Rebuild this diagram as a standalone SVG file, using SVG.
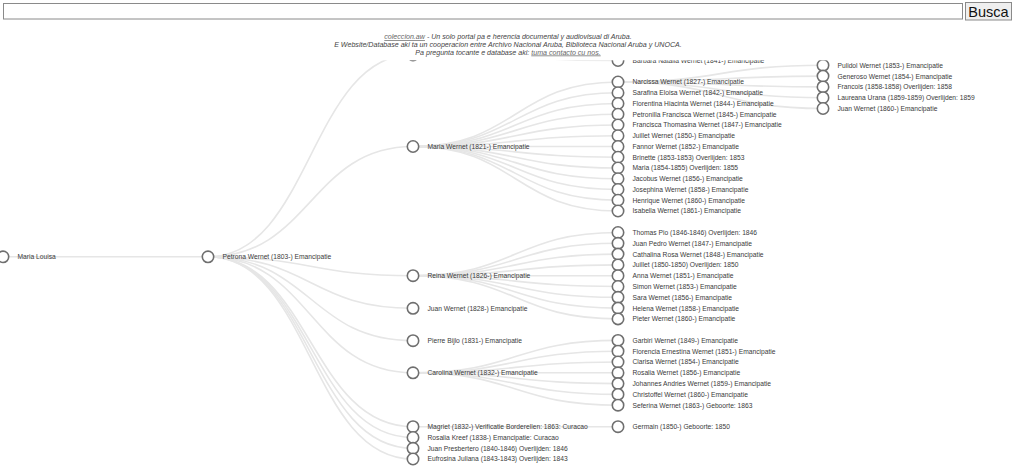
<svg xmlns="http://www.w3.org/2000/svg" width="1014" height="467" viewBox="0 0 1014 467">
<style>
.link{fill:none;stroke:#e6e6e6;stroke-width:1.6}
.node circle{fill:#fff;stroke:#6f6f6f;stroke-width:1.6}
.node text{font-family:"Liberation Sans",Arial,sans-serif;font-size:6.7px;fill:#3a3a3a}
.hdr{font-family:"Liberation Sans",Arial,sans-serif;font-size:7.1px;font-style:italic;fill:#444;text-anchor:middle}
.lnk{fill:#666;text-decoration:underline}
</style>
<rect width="1014" height="467" fill="#fff"/>
<g id="connectors">
<path class="link" d="M3,256.8L208,256.8"/>
<path class="link" d="M208,256.8C310.5,256.8 310.5,54.4 413,54.4"/>
<path class="link" d="M208,256.8C310.5,256.8 310.5,146.5 413,146.5"/>
<path class="link" d="M208,256.8C310.5,256.8 310.5,275.7 413,275.7"/>
<path class="link" d="M208,256.8C310.5,256.8 310.5,308.3 413,308.3"/>
<path class="link" d="M208,256.8C310.5,256.8 310.5,340.7 413,340.7"/>
<path class="link" d="M208,256.8C310.5,256.8 310.5,372.8 413,372.8"/>
<path class="link" d="M208,256.8C310.5,256.8 310.5,426.7 413,426.7"/>
<path class="link" d="M208,256.8C310.5,256.8 310.5,437.5 413,437.5"/>
<path class="link" d="M208,256.8C310.5,256.8 310.5,448.3 413,448.3"/>
<path class="link" d="M208,256.8C310.5,256.8 310.5,459 413,459"/>
<path class="link" d="M413,54.4C515.5,54.4 515.5,60.5 618,60.5"/>
<path class="link" d="M413,146.5C515.5,146.5 515.5,82 618,82"/>
<path class="link" d="M413,146.5C515.5,146.5 515.5,92.75 618,92.75"/>
<path class="link" d="M413,146.5C515.5,146.5 515.5,103.5 618,103.5"/>
<path class="link" d="M413,146.5C515.5,146.5 515.5,114.25 618,114.25"/>
<path class="link" d="M413,146.5C515.5,146.5 515.5,125 618,125"/>
<path class="link" d="M413,146.5C515.5,146.5 515.5,135.75 618,135.75"/>
<path class="link" d="M413,146.5C515.5,146.5 515.5,146.5 618,146.5"/>
<path class="link" d="M413,146.5C515.5,146.5 515.5,157.25 618,157.25"/>
<path class="link" d="M413,146.5C515.5,146.5 515.5,168 618,168"/>
<path class="link" d="M413,146.5C515.5,146.5 515.5,178.75 618,178.75"/>
<path class="link" d="M413,146.5C515.5,146.5 515.5,189.5 618,189.5"/>
<path class="link" d="M413,146.5C515.5,146.5 515.5,200.25 618,200.25"/>
<path class="link" d="M413,146.5C515.5,146.5 515.5,211 618,211"/>
<path class="link" d="M413,275.7C515.5,275.7 515.5,232.5 618,232.5"/>
<path class="link" d="M413,275.7C515.5,275.7 515.5,243.3 618,243.3"/>
<path class="link" d="M413,275.7C515.5,275.7 515.5,254.1 618,254.1"/>
<path class="link" d="M413,275.7C515.5,275.7 515.5,264.9 618,264.9"/>
<path class="link" d="M413,275.7C515.5,275.7 515.5,275.7 618,275.7"/>
<path class="link" d="M413,275.7C515.5,275.7 515.5,286.5 618,286.5"/>
<path class="link" d="M413,275.7C515.5,275.7 515.5,297.3 618,297.3"/>
<path class="link" d="M413,275.7C515.5,275.7 515.5,308.1 618,308.1"/>
<path class="link" d="M413,275.7C515.5,275.7 515.5,318.9 618,318.9"/>
<path class="link" d="M413,372.8C515.5,372.8 515.5,340.4 618,340.4"/>
<path class="link" d="M413,372.8C515.5,372.8 515.5,351.2 618,351.2"/>
<path class="link" d="M413,372.8C515.5,372.8 515.5,362 618,362"/>
<path class="link" d="M413,372.8C515.5,372.8 515.5,372.8 618,372.8"/>
<path class="link" d="M413,372.8C515.5,372.8 515.5,383.6 618,383.6"/>
<path class="link" d="M413,372.8C515.5,372.8 515.5,394.4 618,394.4"/>
<path class="link" d="M413,372.8C515.5,372.8 515.5,405.2 618,405.2"/>
<path class="link" d="M413,426.7L618,426.7"/>
<path class="link" d="M618,82C720.5,82 720.5,65.3 823,65.3"/>
<path class="link" d="M618,82C720.5,82 720.5,76.1 823,76.1"/>
<path class="link" d="M618,82C720.5,82 720.5,86.9 823,86.9"/>
<path class="link" d="M618,82C720.5,82 720.5,97.7 823,97.7"/>
<path class="link" d="M618,82C720.5,82 720.5,108.5 823,108.5"/>
</g>
<g id="n-root" class="node" transform="translate(3,256.8)"><circle r="5.7"/><text x="14.5" y="2.4">Maria Louisa</text></g>
<g id="n-petrona" class="node" transform="translate(208,256.8)"><circle r="5.7"/><text x="14.5" y="2.4">Petrona Wernet (1803-) Emancipatie</text></g>
<g id="n-hidden" class="node" transform="translate(413,55)"><circle r="5.7"/></g>
<g id="n-maria" class="node" transform="translate(413,146.5)"><circle r="5.7"/><text x="14.5" y="2.4">Maria Wernet (1821-) Emancipatie</text></g>
<g id="n-reina" class="node" transform="translate(413,275.7)"><circle r="5.7"/><text x="14.5" y="2.4">Reina Wernet (1826-) Emancipatie</text></g>
<g id="n-juan1828" class="node" transform="translate(413,308.3)"><circle r="5.7"/><text x="14.5" y="2.4">Juan Wernet (1828-) Emancipatie</text></g>
<g id="n-pierre" class="node" transform="translate(413,340.7)"><circle r="5.7"/><text x="14.5" y="2.4">Pierre Bijlo (1831-) Emancipatie</text></g>
<g id="n-carolina" class="node" transform="translate(413,372.8)"><circle r="5.7"/><text x="14.5" y="2.4">Carolina Wernet (1832-) Emancipatie</text></g>
<g id="n-magriet" class="node" transform="translate(413,426.7)"><circle r="5.7"/><text x="14.5" y="2.4">Magriet (1832-) Verificatie Borderellen: 1863: Curacao</text></g>
<g id="n-rosaliak" class="node" transform="translate(413,437.5)"><circle r="5.7"/><text x="14.5" y="2.4">Rosalia Kreef (1838-) Emancipatie: Curacao</text></g>
<g id="n-juanp" class="node" transform="translate(413,448.3)"><circle r="5.7"/><text x="14.5" y="2.4">Juan Presbertero (1840-1846) Overlijden: 1846</text></g>
<g id="n-eufrosina" class="node" transform="translate(413,459)"><circle r="5.7"/><text x="14.5" y="2.4">Eufrosina Juliana (1843-1843) Overlijden: 1843</text></g>
<g id="n-barbara" class="node" transform="translate(618,60.5)"><circle r="5.7"/><text x="14.5" y="2.4">Barbara Natalia Wernet (1841-) Emancipatie</text></g>
<g id="n-narcissa" class="node" transform="translate(618,82)"><circle r="5.7"/><text x="14.5" y="2.4">Narcissa Wernet (1827-) Emancipatie</text></g>
<g id="n-serafina" class="node" transform="translate(618,92.75)"><circle r="5.7"/><text x="14.5" y="2.4">Sarafina Eloisa Wernet (1842-) Emancipatie</text></g>
<g id="n-florentina" class="node" transform="translate(618,103.5)"><circle r="5.7"/><text x="14.5" y="2.4">Florentina Hiacinta Wernet (1844-) Emancipatie</text></g>
<g id="n-petronilla" class="node" transform="translate(618,114.25)"><circle r="5.7"/><text x="14.5" y="2.4">Petronilla Francisca Wernet (1845-) Emancipatie</text></g>
<g id="n-francisca" class="node" transform="translate(618,125)"><circle r="5.7"/><text x="14.5" y="2.4">Francisca Thomasina Wernet (1847-) Emancipatie</text></g>
<g id="n-juillet1" class="node" transform="translate(618,135.75)"><circle r="5.7"/><text x="14.5" y="2.4">Juillet Wernet (1850-) Emancipatie</text></g>
<g id="n-fannor" class="node" transform="translate(618,146.5)"><circle r="5.7"/><text x="14.5" y="2.4">Fannor Wernet (1852-) Emancipatie</text></g>
<g id="n-brinette" class="node" transform="translate(618,157.25)"><circle r="5.7"/><text x="14.5" y="2.4">Brinette (1853-1853) Overlijden: 1853</text></g>
<g id="n-maria1854" class="node" transform="translate(618,168)"><circle r="5.7"/><text x="14.5" y="2.4">Maria (1854-1855) Overlijden: 1855</text></g>
<g id="n-jacobus" class="node" transform="translate(618,178.75)"><circle r="5.7"/><text x="14.5" y="2.4">Jacobus Wernet (1856-) Emancipatie</text></g>
<g id="n-josephina" class="node" transform="translate(618,189.5)"><circle r="5.7"/><text x="14.5" y="2.4">Josephina Wernet (1858-) Emancipatie</text></g>
<g id="n-henrique" class="node" transform="translate(618,200.25)"><circle r="5.7"/><text x="14.5" y="2.4">Henrique Wernet (1860-) Emancipatie</text></g>
<g id="n-isabella" class="node" transform="translate(618,211)"><circle r="5.7"/><text x="14.5" y="2.4">Isabella Wernet (1861-) Emancipatie</text></g>
<g id="n-thomas" class="node" transform="translate(618,232.5)"><circle r="5.7"/><text x="14.5" y="2.4">Thomas Pio (1846-1846) Overlijden: 1846</text></g>
<g id="n-juanpedro" class="node" transform="translate(618,243.3)"><circle r="5.7"/><text x="14.5" y="2.4">Juan Pedro Wernet (1847-) Emancipatie</text></g>
<g id="n-cathalina" class="node" transform="translate(618,254.1)"><circle r="5.7"/><text x="14.5" y="2.4">Cathalina Rosa Wernet (1848-) Emancipatie</text></g>
<g id="n-juillet2" class="node" transform="translate(618,264.9)"><circle r="5.7"/><text x="14.5" y="2.4">Juillet (1850-1850) Overlijden: 1850</text></g>
<g id="n-anna" class="node" transform="translate(618,275.7)"><circle r="5.7"/><text x="14.5" y="2.4">Anna Wernet (1851-) Emancipatie</text></g>
<g id="n-simon" class="node" transform="translate(618,286.5)"><circle r="5.7"/><text x="14.5" y="2.4">Simon Wernet (1853-) Emancipatie</text></g>
<g id="n-sara" class="node" transform="translate(618,297.3)"><circle r="5.7"/><text x="14.5" y="2.4">Sara Wernet (1856-) Emancipatie</text></g>
<g id="n-helena" class="node" transform="translate(618,308.1)"><circle r="5.7"/><text x="14.5" y="2.4">Helena Wernet (1858-) Emancipatie</text></g>
<g id="n-pieter" class="node" transform="translate(618,318.9)"><circle r="5.7"/><text x="14.5" y="2.4">Pieter Wernet (1860-) Emancipatie</text></g>
<g id="n-garbiri" class="node" transform="translate(618,340.4)"><circle r="5.7"/><text x="14.5" y="2.4">Garbiri Wernet (1849-) Emancipatie</text></g>
<g id="n-florencia" class="node" transform="translate(618,351.2)"><circle r="5.7"/><text x="14.5" y="2.4">Florencia Ernestina Wernet (1851-) Emancipatie</text></g>
<g id="n-clarisa" class="node" transform="translate(618,362)"><circle r="5.7"/><text x="14.5" y="2.4">Clarisa Wernet (1854-) Emancipatie</text></g>
<g id="n-rosalia1856" class="node" transform="translate(618,372.8)"><circle r="5.7"/><text x="14.5" y="2.4">Rosalia Wernet (1856-) Emancipatie</text></g>
<g id="n-johannes" class="node" transform="translate(618,383.6)"><circle r="5.7"/><text x="14.5" y="2.4">Johannes Andries Wernet (1859-) Emancipatie</text></g>
<g id="n-christoffel" class="node" transform="translate(618,394.4)"><circle r="5.7"/><text x="14.5" y="2.4">Christoffel Wernet (1860-) Emancipatie</text></g>
<g id="n-seferina" class="node" transform="translate(618,405.2)"><circle r="5.7"/><text x="14.5" y="2.4">Seferina Wernet (1863-) Geboorte: 1863</text></g>
<g id="n-germain" class="node" transform="translate(618,426.7)"><circle r="5.7"/><text x="14.5" y="2.4">Germain (1850-) Geboorte: 1850</text></g>
<g id="n-pulidol" class="node" transform="translate(823,65.3)"><circle r="5.7"/><text x="14.5" y="2.4">Pulidol Wernet (1853-) Emancipatie</text></g>
<g id="n-generoso" class="node" transform="translate(823,76.1)"><circle r="5.7"/><text x="14.5" y="2.4">Generoso Wernet (1854-) Emancipatie</text></g>
<g id="n-francois" class="node" transform="translate(823,86.9)"><circle r="5.7"/><text x="14.5" y="2.4">Francois (1858-1858) Overlijden: 1858</text></g>
<g id="n-laureana" class="node" transform="translate(823,97.7)"><circle r="5.7"/><text x="14.5" y="2.4">Laureana Urana (1859-1859) Overlijden: 1859</text></g>
<g id="n-juan1860" class="node" transform="translate(823,108.5)"><circle r="5.7"/><text x="14.5" y="2.4">Juan Wernet (1860-) Emancipatie</text></g>
<g id="header">
<rect x="0" y="0" width="1014" height="60.3" fill="#fff"/>
<rect x="3.5" y="3.5" width="959" height="15.5" fill="#fff" stroke="#8a8a8a" stroke-width="1"/>
<rect x="965.5" y="2.5" width="46" height="17.5" fill="#efefef" stroke="#8a8a8a" stroke-width="1"/>
<text x="988.5" y="16.5" font-family="Liberation Sans,Arial,sans-serif" font-size="14.5" fill="#111" text-anchor="middle">Busca</text>
<text class="hdr" x="508" y="39"><tspan class="lnk">coleccion.aw</tspan> - Un solo portal pa e herencia documental y audiovisual di Aruba.</text>
<text class="hdr" x="508" y="46.8">E Website/Database aki ta un cooperacion entre Archivo Nacional Aruba, Biblioteca Nacional Aruba y UNOCA.</text>
<text class="hdr" x="508" y="54.5">Pa pregunta tocante e database aki: <tspan class="lnk">tuma contacto cu nos.</tspan></text>
</g>
</svg>
